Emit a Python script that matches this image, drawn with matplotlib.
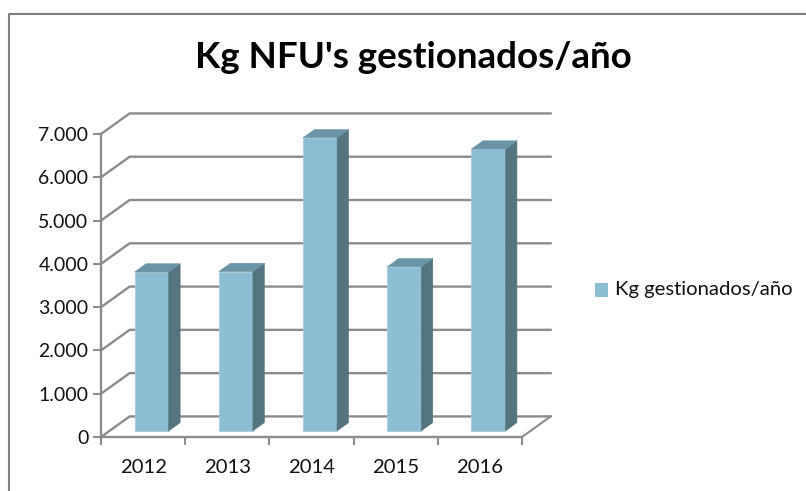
import matplotlib
matplotlib.use("Agg")
import matplotlib.pyplot as plt
from matplotlib.lines import Line2D
from matplotlib.patches import Polygon, Rectangle

years = ["2012", "2013", "2014", "2015", "2016"]
kg = [3670, 3680, 6770, 3790, 6510]
y_ticks = [0, 1000, 2000, 3000, 4000, 5000, 6000, 7000]
y_labels = ["0", "1.000", "2.000", "3.000", "4.000", "5.000", "6.000", "7.000"]
series_name = "Kg gestionados/año"

GREY = "#8c8c8c"
FRONT = "#8cbdd2"
TOP = "#6a95a6"
SIDE = "#54757f"

# depth of the fake 3d box, in data units
dx = 0.34
dy = 475
bar_w = 0.404

plt.rcParams["font.family"] = ["Lato", "DejaVu Sans"]

fig = plt.figure(figsize=(8.06, 4.91), dpi=100)
ax = fig.add_axes([101 / 806, (491 - 437) / 491, 421 / 806, 303 / 491])
ax.set_xlim(0, len(years))
ax.set_ylim(0, 7000)
ax.patch.set_visible(False)

# back wall lines
for v in y_ticks:
    ax.plot([0, dx, len(years) + dx], [v, v + dy, v + dy],
            color=GREY, lw=1.7, clip_on=False, zorder=1, solid_joinstyle="round")
ax.plot([len(years), len(years) + dx], [0, dy], color=GREY, lw=1.5, clip_on=False, zorder=1)

# bars, sitting in the middle of the box depth
d0 = 0.3
d1 = 0.7
for i, v in enumerate(kg):
    x0 = i + 0.5 - bar_w / 2 + d0 * dx
    x1 = x0 + bar_w
    y0 = d0 * dy
    top = y0 + v
    ox = (d1 - d0) * dx
    oy = (d1 - d0) * dy
    ax.bar(x0, v, width=bar_w, bottom=y0, align="edge", color=FRONT,
           edgecolor="#a3cbdc", linewidth=0.6, clip_on=False, zorder=3)
    ax.add_patch(Polygon([(x1, y0), (x1 + ox, y0 + oy), (x1 + ox, top + oy), (x1, top)],
                         closed=True, facecolor=SIDE, edgecolor=SIDE, lw=0.4, clip_on=False, zorder=3))
    ax.add_patch(Polygon([(x0, top), (x0 + ox, top + oy), (x1 + ox, top + oy), (x1, top)],
                         closed=True, facecolor=TOP, edgecolor=TOP, lw=0.4, clip_on=False, zorder=3))

ax.spines["top"].set_visible(False)
ax.spines["right"].set_visible(False)
ax.spines["left"].set_color(GREY)
ax.spines["bottom"].set_color(GREY)
ax.spines["left"].set_linewidth(1.7)
ax.spines["bottom"].set_linewidth(1.7)

ax.set_yticks(y_ticks)
ax.set_yticklabels(y_labels)
ax.set_xticks(range(len(years) + 1))
ax.set_xticklabels([])
ax.set_xticks([i + 0.5 for i in range(len(years))], minor=True)
ax.set_xticklabels(years, minor=True)
ax.tick_params(axis="y", length=6, width=1.5, color=GREY, labelsize=14, labelcolor="#111111", pad=3)
ax.tick_params(axis="x", which="major", length=6, width=1.5, color=GREY)
ax.tick_params(axis="x", which="minor", length=0, labelsize=14.6, labelcolor="#111111", pad=16)

# title, legend and chart frame sit in figure coords
fig.text(413 / 806, 1 - 57 / 491, "Kg NFU's gestionados/año", ha="center", va="center",
         fontsize=26.5, fontweight="bold", color="black")
fig.add_artist(Rectangle((595 / 806, 1 - 297 / 491), 13 / 806, 14 / 491,
                         transform=fig.transFigure, facecolor=FRONT, edgecolor="none"))
fig.text(615 / 806, 1 - 290 / 491, series_name, ha="left", va="center", fontsize=14.6, color="#111111")
fig.add_artist(Line2D([8.5 / 806, 8.5 / 806, 1], [0, 1 - 13.5 / 491, 1 - 13.5 / 491],
                      transform=fig.transFigure, color="#808080", lw=1.5))

fig.savefig("out.png", dpi=100)
